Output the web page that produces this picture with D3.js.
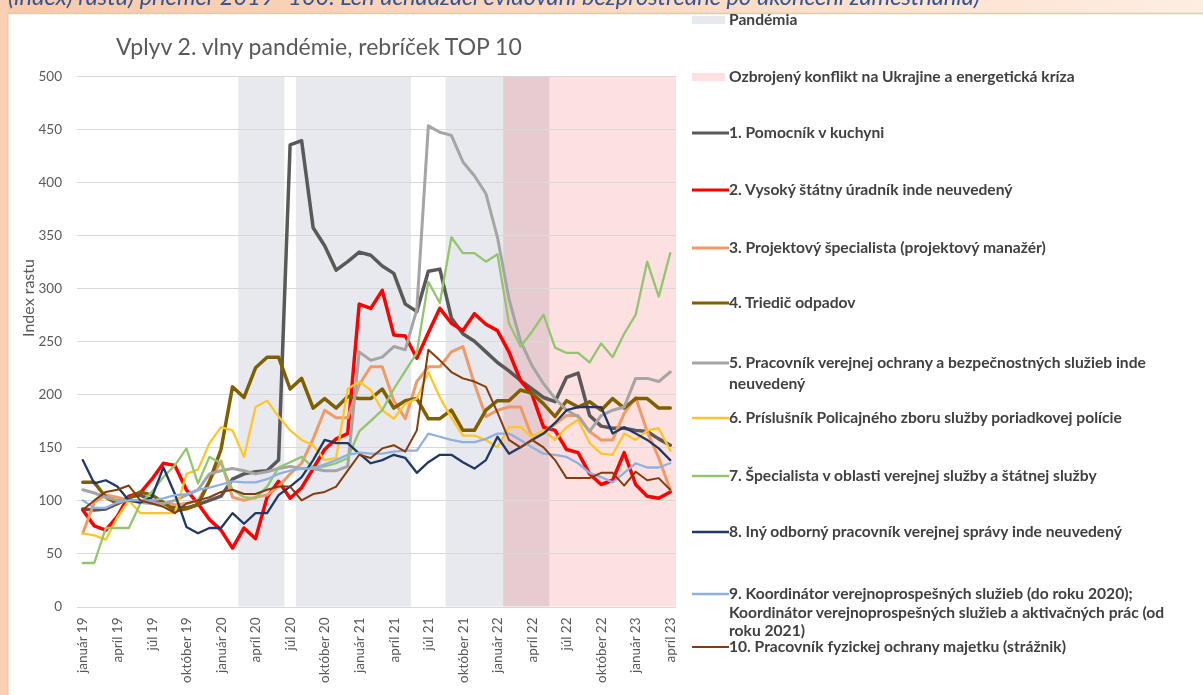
<!DOCTYPE html>
<html><head><meta charset="utf-8">
<script src="https://cdn.jsdelivr.net/npm/d3@7"></script>
<style>
html,body{margin:0;padding:0;background:#fff;}
svg{display:block;font-family:Lato, "Open Sans", sans-serif;}
</style></head>
<body><svg id="c" width="1203" height="695"></svg>
<script>
// ---------- DATA ----------
const monthNames = ["január","február","marec","apríl","máj","jún","júl","august","september","október","november","december"];
const yearLabels = ["19","20","21","22","23"];
const categories = [];
yearLabels.forEach(y => monthNames.forEach(m => { if (categories.length < 52) categories.push(m + " " + y); }));
const tickEvery = 3;
const yTicks = [0,50,100,150,200,250,300,350,400,450,500];

const pandemicPeriods = [[14,18],[19,29],[32,41]];   // [start, end) category indices
const conflictPeriods = [[37,52]];

const seriesNames = [
  "1. Pomocník v kuchyni",
  "2. Vysoký štátny úradník inde neuvedený",
  "3. Projektový špecialista (projektový manažér)",
  "4. Triedič odpadov",
  "5. Pracovník verejnej ochrany a bezpečnostných služieb inde neuvedený",
  "6. Príslušník Policajného zboru služby poriadkovej polície",
  "7. Špecialista v oblasti verejnej služby a štátnej služby",
  "8. Iný odborný pracovník verejnej správy inde neuvedený",
  "9. Koordinátor verejnoprospešných služieb (do roku 2020); Koordinátor verejnoprospešných služieb a aktivačných prác (od roku 2021)",
  "10. Pracovník fyzickej ochrany majetku (strážnik)"
];
const s1 = [92,91,92,97,103,105,100,97,94,93,96,100, 104,120,125,127,128,138, 435,439,357,340,317,325, 334,331,321,314,285,278, 316,318,272,257,250,240, 230,222,213,205,197,193, 216,220,180,170,168,168, 166,165,158,152];
const s2 = [91,76,72,85,104,107,120,135,133,110,97,82, 72,55,74,64,103,118, 102,112,130,148,158,163, 285,281,298,256,255,234, 258,281,267,260,276,266, 260,240,213,200,169,166, 148,145,125,115,119,145, 115,104,102,108];
const s3 = [69,98,105,103,100,100,98,97,96,97,100,118, 137,103,100,103,105,113, 125,135,158,185,178,178, 209,226,226,194,177,212, 226,226,240,245,210,179, 185,188,188,160,164,172, 180,180,165,157,157,182, 197,165,140,110];
const s4 = [117,117,103,97,102,108,105,98,90,92,96,118, 148,207,197,225,235,235, 205,215,187,196,187,198, 196,196,205,187,194,196, 177,177,185,166,166,185, 194,194,204,201,191,179, 194,188,193,185,196,187, 196,196,187,187];
const s5 = [110,107,103,100,100,98,97,97,100,105,110,125, 128,130,128,125,127,130, 132,130,130,128,128,132, 240,232,235,245,242,280, 453,447,444,419,406,389, 348,290,250,227,210,196, 185,179,165,180,185,188, 215,215,212,221];
const s6 = [69,67,63,84,100,88,88,88,88,125,129,154, 169,166,141,188,194,179, 166,157,152,138,140,205, 212,204,185,177,191,196, 221,197,178,161,161,157, 150,169,169,160,166,157, 169,176,154,144,143,163, 157,166,168,147];
const s7 = [41,41,74,74,74,97,108,122,133,149,116,141, 135,110,103,102,113,131, 136,141,131,132,135,140, 165,175,185,205,222,239, 306,286,348,333,333,325, 332,267,245,259,275,244, 239,239,230,248,235,257, 275,325,292,333];
const s8 = [138,116,119,113,100,98,103,131,106,75,69,74, 74,88,78,88,88,105, 113,122,138,157,154,154, 144,135,138,143,140,126, 136,143,143,136,130,138, 160,144,150,157,163,173, 185,188,188,188,163,169, 163,157,149,138];
const s9 = [100,93,93,98,100,100,100,102,105,106,110,112, 115,118,117,117,120,125, 128,130,130,134,138,143, 145,144,144,146,147,147, 163,160,157,155,155,158, 163,163,157,150,144,143, 141,135,126,122,117,126, 135,131,131,135];
const s10 = [91,100,108,110,114,100,97,94,88,97,100,103, 108,110,106,106,110,113, 113,100,106,108,113,128, 143,140,149,152,146,166, 242,232,221,215,212,207, 183,157,150,157,150,138, 121,121,121,126,126,114, 127,119,121,110];
const seriesValues = [s1,s2,s3,s4,s5,s6,s7,s8,s9,s10];
const seriesColors = ["#595959","#ff0000","#f09a66","#7f6000","#a5a5a5","#ffc62a","#93c56f","#1f3864","#8fb0e0","#843c0c"];
const seriesWidths = [3.5,3.5,3,3.5,3,2.3,2.3,2.3,2.3,2];

// ---------- LAYOUT ----------
const svg = d3.select("#c");
const W = 1203, H = 695;
const plot = {left:77, right:676, top:76, bottom:606.5};

function fitWidth(sel, target) {
  const fs = parseFloat(sel.attr("font-size"));
  const w = sel.node().getComputedTextLength();
  if (w > 0) sel.attr("font-size", (fs * target / w).toFixed(2));
}

// background frame
const defs = svg.append("defs");
const g1 = defs.append("linearGradient").attr("id","topg").attr("x1","0").attr("x2","1");
g1.append("stop").attr("offset","0").attr("stop-color","#f9c9ab");
g1.append("stop").attr("offset","0.6").attr("stop-color","#fbdcc6");
g1.append("stop").attr("offset","1").attr("stop-color","#fdeee2");
svg.append("rect").attr("x",0).attr("y",0).attr("width",W).attr("height",14).attr("fill","url(#topg)");
svg.append("rect").attr("x",0).attr("y",0).attr("width",8).attr("height",H).attr("fill","#fbcfb3");
svg.append("rect").attr("x",8).attr("y",13.5).attr("width",W-8).attr("height",H-13.5).attr("fill","#ffffff");
svg.append("line").attr("x1",8).attr("x2",W).attr("y1",13.5).attr("y2",13.5).attr("stroke","#d8cfae").attr("stroke-width",1.5);
svg.append("line").attr("x1",8).attr("x2",8).attr("y1",13.5).attr("y2",H).attr("stroke","#f0c0a0").attr("stroke-width",1);

const topText = svg.append("text").attr("x",8).attr("y",4.5)
  .attr("font-style","italic").attr("font-size",20).attr("fill","#2f5597").attr("font-family","Lato")
  .text("(index) rastu) priemer 2019=100. Len uchádzači evidovaní bezprostredne po ukončení zamestnania)");
fitWidth(topText, 972);

// scales
const x = d3.scaleBand().domain(d3.range(categories.length)).range([plot.left, plot.right]).padding(0);
const bw = x.bandwidth();
const cx = i => x(i) + bw/2;
const y = d3.scaleLinear().domain([0,500]).range([plot.bottom, plot.top]);

// shading
const shade = svg.append("g");
shade.selectAll("rect.p").data(pandemicPeriods).join("rect")
  .attr("x", d => x(d[0])).attr("width", d => x(d[1]-1) + bw - x(d[0]))
  .attr("y", y(500)).attr("height", y(0)-y(500)).attr("fill","#e8e9ee");
shade.selectAll("rect.c").data(conflictPeriods).join("rect")
  .attr("x", d => x(d[0])).attr("width", d => x(d[1]-1) + bw - x(d[0]))
  .attr("y", y(500)).attr("height", y(0)-y(500)).attr("fill","#fde0e0")
  .style("mix-blend-mode","multiply");

// grid
svg.append("g").selectAll("line").data(yTicks).join("line")
  .attr("x1", plot.left).attr("x2", plot.right)
  .attr("y1", d => Math.round(y(d))+0.5).attr("y2", d => Math.round(y(d))+0.5)
  .attr("stroke", "#d9d9d9").attr("stroke-width",1);

// y axis
const yAxis = svg.append("g").attr("transform",`translate(${plot.left},0)`)
  .call(d3.axisLeft(y).tickValues(yTicks).tickSize(0).tickPadding(15));
yAxis.select(".domain").remove();
yAxis.selectAll("text").attr("fill","#595959").attr("font-size",13.5).attr("font-family","Lato");

// x axis
const xAxis = svg.append("g").attr("transform",`translate(0,${plot.bottom})`)
  .call(d3.axisBottom(x).tickValues(d3.range(0,categories.length,tickEvery)).tickFormat(i => categories[i]).tickSize(0));
xAxis.select(".domain").remove();
xAxis.selectAll("text")
  .attr("transform","rotate(-90)").attr("text-anchor","end")
  .attr("x",-11).attr("y",0).attr("dy","0.35em")
  .attr("fill","#595959").attr("font-size",13.5).attr("font-family","Lato");

// lines
const line = d3.line().x((d,i) => cx(i)).y(d => y(d));
svg.append("g").selectAll("path").data(seriesValues).join("path")
  .attr("d", line).attr("fill","none")
  .attr("stroke",(d,i)=>seriesColors[i]).attr("stroke-width",(d,i)=>seriesWidths[i])
  .attr("stroke-linejoin","round").attr("stroke-linecap","round");

// title
const title = svg.append("text").attr("x",116).attr("y",55).attr("fill","#595959")
  .attr("font-size",20).attr("font-family","Lato").text("Vplyv 2. vlny pandémie, rebríček TOP 10");
fitWidth(title, 406);

// y label
svg.append("text").attr("transform","translate(34,298) rotate(-90)").attr("text-anchor","middle")
  .attr("fill","#595959").attr("font-size",16).attr("font-family","Lato").text("Index rastu");

// legend
const leg = svg.append("g").attr("font-family","Lato").attr("font-weight","bold").attr("font-size",14.2).attr("fill","#404040");
const lx = 692, tx = 729;
const probe = leg.append("text").attr("x",tx).attr("y",-50).text("5. Pracovník verejnej ochrany a bezpečnostných služieb inde");
const legFs = 0.93 * 14.2 * 448 / probe.node().getComputedTextLength();
probe.remove();
leg.attr("font-size", legFs.toFixed(2));
const legendPatch = [
  {label:"Pandémia", y:20, fill:"#e8e9ee"},
  {label:"Ozbrojený konflikt na Ukrajine a energetická kríza", y:77, fill:"#fde0e0"}
];
legendPatch.forEach(p => {
  leg.append("rect").attr("x",lx).attr("y",p.y-4).attr("width",33).attr("height",8).attr("fill",p.fill);
  leg.append("text").attr("x",tx).attr("y",p.y).attr("dy","0.35em").text(p.label);
});
const legendY = [133,190,248,303,363,418,476,532,594,647];
const legendLines = [
  [seriesNames[0]],[seriesNames[1]],[seriesNames[2]],[seriesNames[3]],
  ["5. Pracovník verejnej ochrany a bezpečnostných služieb inde","neuvedený"],
  [seriesNames[5]],[seriesNames[6]],[seriesNames[7]],
  ["9. Koordinátor verejnoprospešných služieb (do roku 2020);","Koordinátor verejnoprospešných služieb a aktivačných prác (od","roku 2021)"],
  [seriesNames[9]]
];
const lineGap = [0,0,0,0,21,0,0,0,18.5,0];
legendLines.forEach((lines,i) => {
  const yy = legendY[i];
  leg.append("line").attr("x1",lx).attr("x2",tx).attr("y1",yy).attr("y2",yy)
    .attr("stroke",seriesColors[i]).attr("stroke-width",Math.min(seriesWidths[i],3));
  lines.forEach((l,k) => {
    leg.append("text").attr("x",tx).attr("y", yy + k*lineGap[i]).attr("dy","0.35em").text(l);
  });
});
</script></body></html>
